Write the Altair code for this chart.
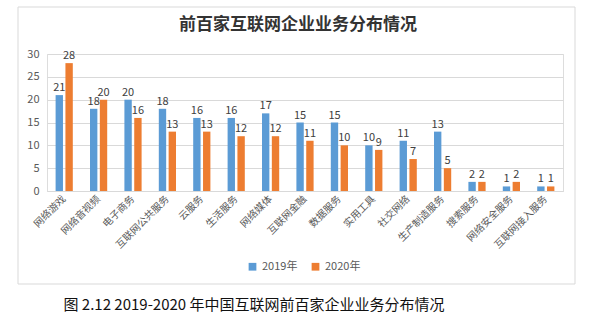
import altair as alt
import pandas as pd

categories = ["网络游戏", "网络音视频", "电子商务", "互联网公共服务", "云服务", "生活服务",
              "网络媒体", "互联网金融", "数据服务", "实用工具", "社交网络", "生产制造服务",
              "搜索服务", "网络安全服务", "互联网接入服务"]
v2019 = [21, 18, 20, 18, 16, 16, 17, 15, 15, 10, 11, 13, 2, 1, 1]
v2020 = [28, 20, 16, 13, 13, 12, 12, 11, 10, 9, 7, 5, 2, 2, 1]
series = ["2019年", "2020年"]
colors = ["#5B9BD5", "#ED7D31"]
y_ticks = [0, 5, 10, 15, 20, 25, 30]
title_text = "前百家互联网企业业务分布情况"
caption_text = "图 2.12 2019-2020 年中国互联网前百家企业业务分布情况"

rows = []
for c, a, b in zip(categories, v2019, v2020):
    rows.append({"cat": c, "series": series[0], "value": a})
    rows.append({"cat": c, "series": series[1], "value": b})
df = pd.DataFrame(rows)

FONT = "Noto Sans CJK SC"

x_enc = alt.X("cat:N", sort=categories,
              scale=alt.Scale(paddingInner=0.5, paddingOuter=0.25),
              axis=alt.Axis(title=None, labelAngle=-45, labelAlign="right",
                            labelBaseline="middle", labelFont=FONT, labelFontSize=10,
                            labelColor="#595959", ticks=False, domainColor="#d9d9d9",
                            labelPadding=6, labelOverlap=False))
xo_enc = alt.XOffset("series:N", sort=series, scale=alt.Scale(paddingInner=0.25))
y_enc = alt.Y("value:Q", scale=alt.Scale(domain=[0, 30], nice=False),
              axis=alt.Axis(title=None, values=y_ticks, tickCount=7, labelOverlap=False,
                            domain=False, ticks=False, gridColor="#d9d9d9",
                            labelColor="#595959", labelFontSize=11, labelFont=FONT,
                            labelPadding=8))

one = pd.DataFrame({"a": [0]})

frame = alt.Chart(one).mark_rect(filled=False, stroke="#d9d9d9", strokeWidth=1).encode(
    x=alt.value(-29), x2=alt.value(528), y=alt.value(-47), y2=alt.value(230))

bars = alt.Chart(df).mark_bar().encode(
    x=x_enc, xOffset=xo_enc, y=y_enc,
    color=alt.Color("series:N", sort=series,
                    scale=alt.Scale(domain=series, range=colors),
                    legend=alt.Legend(title=None, orient="none", direction="horizontal",
                                      legendX=200, legendY=207, symbolType="square",
                                      symbolSize=60, labelFontSize=11, labelFont=FONT,
                                      labelColor="#595959", columnPadding=12)))

labels = alt.Chart(df).mark_text(dy=-7, fontSize=11, color="#404040", font=FONT).encode(
    x=x_enc, xOffset=xo_enc, y=y_enc, text="value:Q")

title = alt.Chart(one).mark_text(text=title_text, fontSize=17, fontWeight="bold",
                                 font=FONT, color="#333333", baseline="middle").encode(
    x=alt.value(251), y=alt.value(-29))

caption = alt.Chart(one).mark_text(text=caption_text, fontSize=15, font=FONT,
                                   color="#111111", baseline="middle").encode(
    x=alt.value(207), y=alt.value(251))

chart = alt.layer(frame, bars, labels, title, caption).properties(
    width=516, height=137, autosize="none",
    padding={"left": 47, "top": 54, "right": 37, "bottom": 137}
).configure_view(stroke=None).configure(background="white")

chart.save("out.html", embed_options={"renderer": "svg", "actions": False})
